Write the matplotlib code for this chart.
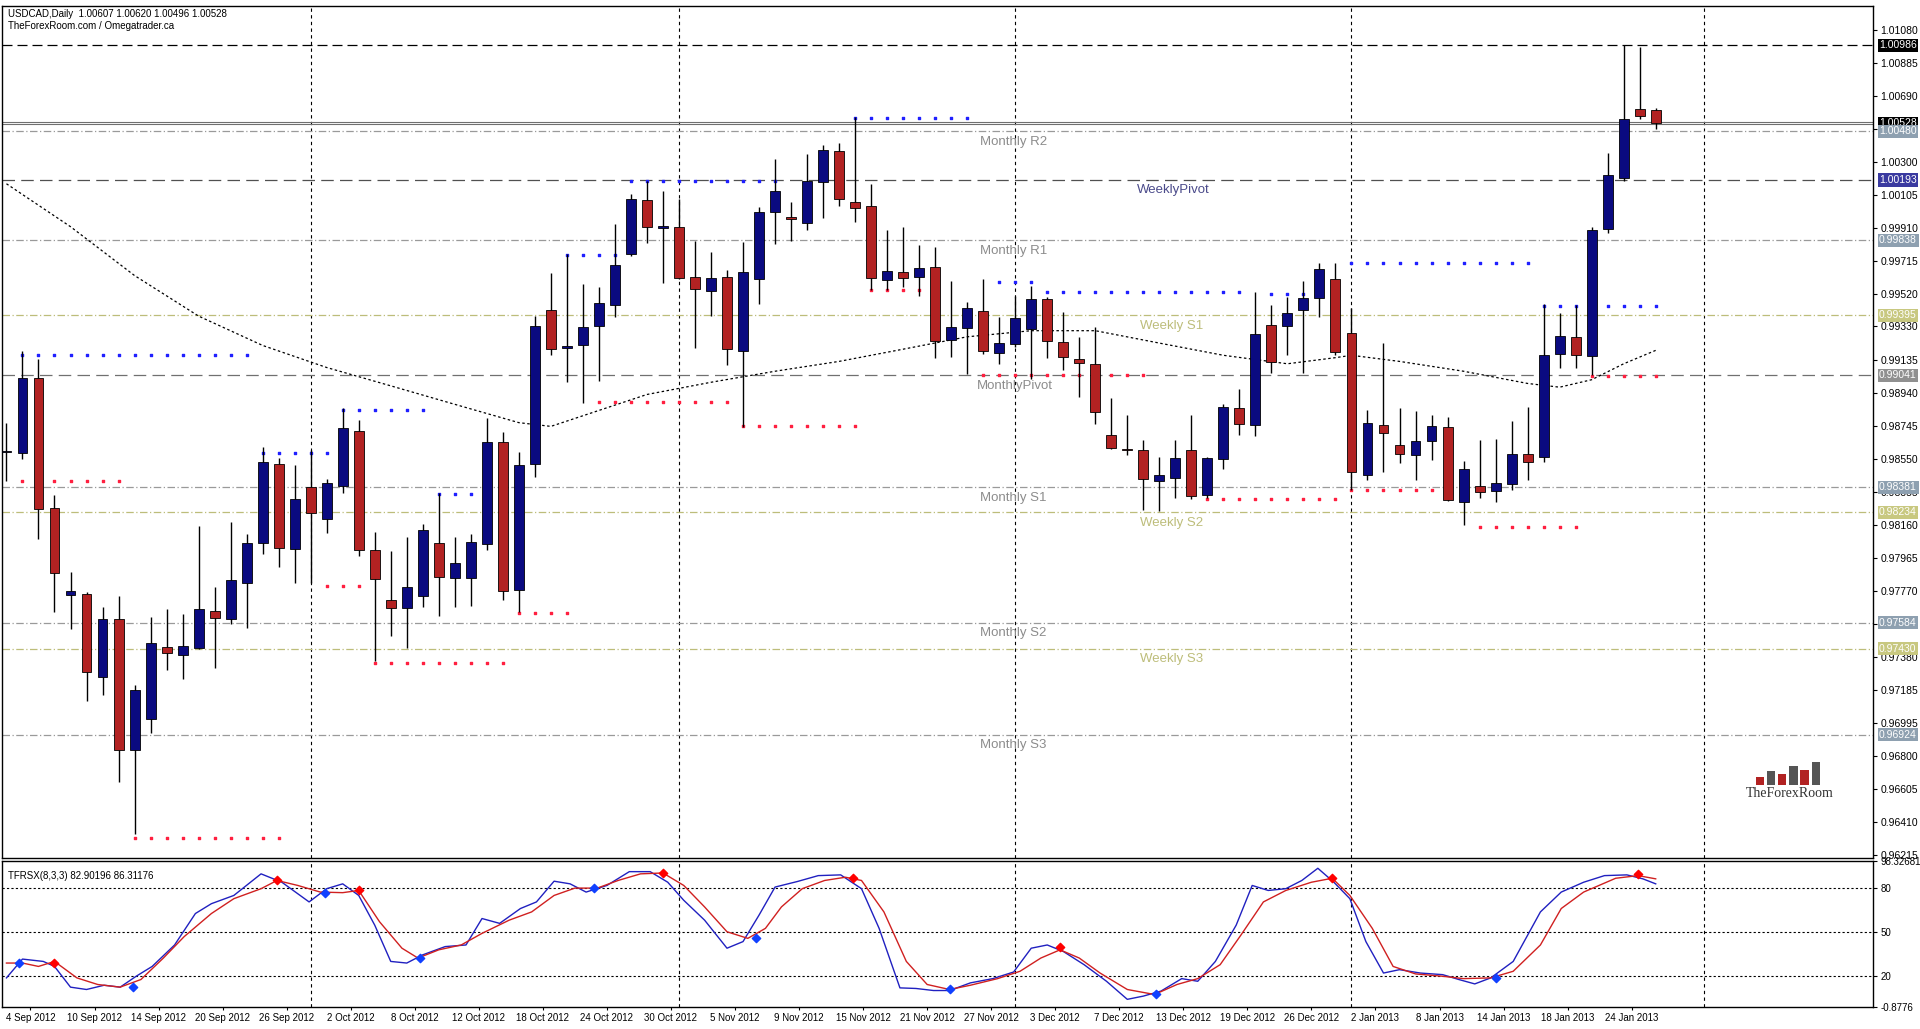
import matplotlib
matplotlib.use("Agg")
import matplotlib.pyplot as plt
from matplotlib.patches import Rectangle

# ---- candle data (bar index 0 = 31 Aug 2012) ----
opens = [0.98590, 0.98582, 0.99027, 0.98262, 0.97746, 0.97755, 0.97261, 0.97603, 0.96836, 0.97016,
         0.97441, 0.97393, 0.97435, 0.97655, 0.97603, 0.97820, 0.98054, 0.98519, 0.98020, 0.98382,
         0.98197, 0.98390, 0.98716, 0.98014, 0.97720, 0.97672, 0.97743, 0.98054, 0.97849, 0.97849,
         0.98048, 0.98647, 0.97777, 0.98519, 0.99429, 0.99203, 0.99218, 0.99330, 0.99459, 0.99758,
         1.00075, 0.99909, 0.99915, 0.99620, 0.99538, 0.99620, 0.99185, 0.99607, 1.00007, 0.99973,
         0.99938, 1.00179, 1.00362, 1.00062, 1.00042, 0.99601, 0.99650, 0.99620, 0.99679, 0.99248,
         0.99320, 0.99424, 0.99173, 0.99224, 0.99316, 0.99489, 0.99238, 0.99136, 0.99110, 0.98688,
         0.98607, 0.98599, 0.98422, 0.98436, 0.98599, 0.98338, 0.98548, 0.98852, 0.98750, 0.99336,
         0.99330, 0.99426, 0.99497, 0.99609, 0.99294, 0.98456, 0.98750, 0.98629, 0.98570, 0.98652,
         0.98740, 0.98298, 0.98391, 0.98358, 0.98401, 0.98580, 0.98558, 0.99169, 0.99267, 0.99157,
         0.99905, 1.00207, 1.00611, 1.00607]
highs = [0.98761, 0.99183, 0.99141, 0.98339, 0.97883, 0.97764, 0.97677, 0.97740, 0.97215, 0.97615,
         0.97663, 0.97635, 0.98154, 0.97797, 0.98177, 0.98105, 0.98619, 0.98553, 0.98513, 0.98599,
         0.98433, 0.98847, 0.98776, 0.98120, 0.98005, 0.98091, 0.98168, 0.98348, 0.98091, 0.98105,
         0.98790, 0.98710, 0.98590, 0.99389, 0.99645, 0.99758, 0.99581, 0.99562, 0.99934, 1.00111,
         1.00189, 1.00126, 1.00081, 0.99836, 0.99767, 0.99660, 0.99826, 1.00032, 1.00317, 1.00062,
         1.00346, 1.00401, 1.00411, 1.00562, 1.00170, 0.99899, 0.99915, 0.99811, 0.99797, 0.99595,
         0.99477, 0.99610, 0.99385, 0.99512, 0.99571, 0.99503, 0.99418, 0.99267, 0.99326, 0.98907,
         0.98809, 0.98662, 0.98558, 0.98662, 0.98809, 0.98558, 0.98872, 0.98962, 0.99536, 0.99457,
         0.99506, 0.99595, 0.99703, 0.99703, 0.99438, 0.98839, 0.99232, 0.98848, 0.98829, 0.98809,
         0.98799, 0.98538, 0.98662, 0.98668, 0.98774, 0.98858, 0.99461, 0.99408, 0.99457, 0.99918,
         1.00352, 1.00986, 1.00980, 1.00620]
lows = [0.98419, 0.98547, 0.98077, 0.97649, 0.97549, 0.97121, 0.97158, 0.96645, 0.96337, 0.96936,
        0.97307, 0.97250, 0.97430, 0.97315, 0.97578, 0.97555, 0.97991, 0.97911, 0.97820, 0.97820,
        0.98111, 0.98348, 0.97977, 0.97358, 0.97506, 0.97435, 0.97677, 0.97626, 0.97677, 0.97683,
        0.98014, 0.97720, 0.97649, 0.98442, 0.99160, 0.99002, 0.98881, 0.99006, 0.99385, 0.99748,
        0.99822, 0.99585, 0.99611, 0.99203, 0.99391, 0.99101, 0.98738, 0.99463, 0.99816, 0.99836,
        0.99901, 0.99969, 1.00038, 0.99944, 0.99542, 0.99542, 0.99562, 0.99512, 0.99144, 0.99150,
        0.99052, 0.99169, 0.99110, 0.99208, 0.99022, 0.99144, 0.99071, 0.98914, 0.98757, 0.98609,
        0.98570, 0.98249, 0.98244, 0.98318, 0.98314, 0.98318, 0.98491, 0.98691, 0.98682, 0.99055,
        0.99163, 0.99055, 0.99383, 0.99163, 0.98367, 0.98426, 0.98475, 0.98525, 0.98426, 0.98544,
        0.98302, 0.98157, 0.98318, 0.98298, 0.98367, 0.98426, 0.98534, 0.99088, 0.99088, 0.99041,
        0.99882, 1.00185, 1.00554, 1.00496]
closes = [0.98592, 0.99027, 0.98254, 0.97877, 0.97769, 0.97293, 0.97603, 0.96836, 0.97187, 0.97464,
          0.97407, 0.97444, 0.97663, 0.97612, 0.97834, 0.98054, 0.98533, 0.98025, 0.98311, 0.98228,
          0.98405, 0.98733, 0.98014, 0.97843, 0.97669, 0.97797, 0.98128, 0.97854, 0.97934, 0.98060,
          0.98647, 0.97769, 0.98513, 0.99332, 0.99200, 0.99214, 0.99326, 0.99469, 0.99693, 1.00081,
          0.99915, 0.99921, 0.99615, 0.99548, 0.99615, 0.99195, 0.99650, 1.00003, 1.00126, 0.99964,
          1.00189, 1.00370, 1.00081, 1.00026, 0.99615, 0.99654, 0.99615, 0.99673, 0.99244, 0.99326,
          0.99438, 0.99185, 0.99232, 0.99379, 0.99489, 0.99244, 0.99150, 0.99116, 0.98826, 0.98613,
          0.98603, 0.98432, 0.98452, 0.98554, 0.98328, 0.98554, 0.98858, 0.98754, 0.99288, 0.99120,
          0.99408, 0.99497, 0.99668, 0.99182, 0.98470, 0.98760, 0.98701, 0.98580, 0.98652, 0.98746,
          0.98308, 0.98489, 0.98354, 0.98407, 0.98578, 0.98534, 0.99159, 0.99271, 0.99163, 0.99897,
          1.00222, 1.00554, 1.00568, 1.00528]

# moving average (dotted), sampled at bar indices
ma_idx = [0, 4, 8, 12, 16, 20, 24, 28, 32, 34, 37, 40, 44, 48, 52, 56, 60, 64, 68, 72, 76, 80, 83, 84,
          87, 91, 95, 97, 99, 101, 103]
ma_val = [1.00171, 0.99918, 0.99630, 0.99391, 0.99218, 0.99088, 0.98980, 0.98871, 0.98763, 0.98741,
          0.98835, 0.98929, 0.99001, 0.99066, 0.99124, 0.99196, 0.99269, 0.99305, 0.99305, 0.99232,
          0.99160, 0.99110, 0.99146, 0.99160, 0.99124, 0.99066, 0.98994, 0.98972, 0.99016, 0.99110,
          0.99189]

# fractal dot levels: (first bar, last bar, price)
blue_dots = [(1, 15, 0.99160), (16, 20, 0.98583), (21, 26, 0.98835), (27, 29, 0.98344),
             (35, 38, 0.99752), (39, 48, 1.00185), (53, 60, 1.00561), (62, 64, 0.99593),
             (65, 77, 0.99536), (79, 81, 0.99521), (84, 95, 0.99702), (96, 98, 0.99449),
             (100, 103, 0.99449)]
red_dots = [(1, 7, 0.98417), (8, 17, 0.96316), (20, 22, 0.97803), (23, 31, 0.97348),
            (32, 35, 0.97644), (37, 45, 0.98886), (46, 53, 0.98741), (54, 57, 0.99543),
            (61, 71, 0.99045), (75, 83, 0.98315), (84, 89, 0.98366), (92, 98, 0.98149),
            (99, 103, 0.99037)]

# pivot levels
level_names = ["Monthly R2", "WeeklyPivot", "Monthly R1", "Weekly S1", "MonthlyPivot",
               "Monthly S1", "Weekly S2", "Monthly S2", "Weekly S3", "Monthly S3"]
level_vals = [1.00480, 1.00193, 0.99838, 0.99395, 0.99041, 0.98381, 0.98234, 0.97584, 0.97430, 0.96924]
high_line = 1.00986
last_price = 1.00528

price_ticks = [1.01080, 1.00885, 1.00690, 1.00495, 1.00300, 1.00105, 0.99910, 0.99715, 0.99520,
               0.99330, 0.99135, 0.98940, 0.98745, 0.98550, 0.98355, 0.98160, 0.97965, 0.97770,
               0.97575, 0.97380, 0.97185, 0.96995, 0.96800, 0.96605, 0.96410, 0.96215]

date_labels = ["4 Sep 2012", "10 Sep 2012", "14 Sep 2012", "20 Sep 2012", "26 Sep 2012", "2 Oct 2012",
               "8 Oct 2012", "12 Oct 2012", "18 Oct 2012", "24 Oct 2012", "30 Oct 2012", "5 Nov 2012",
               "9 Nov 2012", "15 Nov 2012", "21 Nov 2012", "27 Nov 2012", "3 Dec 2012", "7 Dec 2012",
               "13 Dec 2012", "19 Dec 2012", "26 Dec 2012", "2 Jan 2013", "8 Jan 2013", "14 Jan 2013",
               "18 Jan 2013", "24 Jan 2013"]
date_idx = list(range(2, 103, 4))
grid_idx = [19, 42, 63, 84, 106]

# oscillator TFRSX(8,3,3)
fast_idx = [0, 1, 2.3, 3, 4, 5, 6.1, 7.1, 8.1, 9.1, 10.5, 11.8, 12.8, 14.2, 15.9, 17.2, 18.9, 20, 21, 22,
            23, 24, 25, 26, 27.4, 28.7, 29.7, 30.8, 32.1, 33.1, 34.2, 35.2, 36.2, 37.5, 38.9, 40.2, 41.3,
            42.3, 43.6, 45, 46, 47, 48, 49.4, 50.7, 52.1, 53.4, 54.5, 55.8, 56.8, 57.9, 58.9, 60.2, 61.6,
            62.9, 64, 65, 66, 67.3, 68.7, 70, 71, 72.1, 73.4, 74.4, 75.5, 76.8, 77.8, 78.8, 79.9, 80.9,
            81.9, 82.9, 83.9, 84.9, 86, 87, 88.3, 89.7, 90.7, 91.7, 92.7, 94.1, 95.8, 97.1, 98.5, 99.8,
            101.2, 102.2, 103]
fast_val = [18.9, 31.7, 30.1, 26.7, 12.6, 11.0, 13.9, 12.6, 20.0, 26.7, 41.3, 62.7, 69.4, 75.0, 89.7,
            84.0, 70.6, 79.6, 82.9, 75.0, 54.8, 30.1, 29.0, 34.6, 40.2, 41.3, 59.3, 56.0, 66.1, 70.6,
            84.7, 82.9, 77.3, 81.8, 91.2, 91.2, 84.0, 71.7, 58.2, 39.1, 43.6, 61.6, 80.7, 84.5, 88.5,
            89.0, 79.6, 52.6, 12.1, 11.7, 10.3, 10.3, 15.5, 18.4, 22.9, 39.1, 41.3, 36.9, 27.9, 16.6,
            4.3, 6.5, 9.9, 18.4, 16.6, 30.1, 54.8, 81.8, 78.4, 79.6, 85.2, 93.5, 84.0, 72.8, 43.6, 22.2,
            24.5, 22.2, 21.1, 17.8, 14.8, 18.9, 30.1, 63.8, 77.3, 84.0, 88.5, 89.0, 86.3, 82.90]
slow_idx = [0, 1, 2, 3, 4.4, 5.7, 7.1, 8.4, 9.8, 11.1, 12.8, 14.2, 15.9, 16.9, 18.2, 19.6, 21, 22, 23.3,
            24.7, 25.7, 27, 28.4, 29.7, 31.4, 32.8, 34.2, 35.5, 36.9, 38.2, 39.6, 41, 42.3, 43.6, 45,
            46.3, 47.4, 48.4, 49.7, 51.1, 52.4, 53.4, 54.8, 56.2, 57.5, 58.9, 60.2, 61.9, 63.3, 64.6,
            65.8, 67, 68.3, 70, 71.7, 73.1, 74.4, 75.8, 77.1, 78.5, 79.9, 81.5, 82.8, 83.9, 85.3, 86.6,
            88, 89.7, 91, 92.7, 94.1, 95.8, 97.1, 98.5, 100.5, 101.9, 103]
slow_val = [29.0, 29.0, 26.7, 30.1, 18.9, 14.4, 12.6, 17.8, 32.4, 47.0, 62.7, 72.8, 79.6, 85.2, 81.8,
            77.3, 76.9, 78.4, 57.1, 39.1, 32.4, 38.0, 41.3, 49.2, 58.2, 63.8, 75.0, 80.0, 80.0, 85.2,
            89.7, 90.3, 81.8, 67.2, 50.3, 45.8, 52.6, 67.2, 79.6, 85.2, 87.4, 85.2, 63.8, 30.1, 14.4,
            11.0, 13.9, 18.4, 23.4, 32.4, 38.0, 32.4, 22.2, 11.0, 7.6, 14.4, 18.4, 27.9, 48.1, 70.6,
            78.4, 84.0, 86.7, 75.0, 52.6, 26.7, 21.6, 20.0, 18.4, 18.9, 23.4, 41.3, 66.1, 77.3, 86.7,
            88.5, 86.31]
sell_marks = [(3.0, 29.0), (16.9, 85.2), (22.0, 78.4), (41.0, 90.3), (52.9, 86.7), (65.8, 39.6),
              (82.8, 86.7), (101.9, 89.5)]
buy_marks = [(0.8, 29.0), (7.9, 12.7), (19.9, 76.9), (25.8, 32.4), (36.7, 80.0), (46.8, 46.3),
             (58.9, 11.0), (71.8, 7.6), (93.0, 18.9)]

# ---- figure ----
W, H = 1920, 1029
fig = plt.figure(figsize=(W / 100, H / 100), dpi=100)
plt.rcParams['font.family'] = ['Liberation Sans', 'DejaVu Sans']
X0, X1 = 2 / 1568, 1530 / 1568
ax = fig.add_axes([X0, 1 - 700 / 840, X1 - X0, 695 / 840])
axo = fig.add_axes([X0, 1 - 822 / 840, X1 - X0, 119 / 840], sharex=ax)
fig.patch.set_facecolor("white")

xmin, xmax = -0.25, 116.6
ymin, ymax = 0.96200, 1.01218
ax.set_xlim(xmin, xmax)
ax.set_ylim(ymin, ymax)

for g in grid_idx:
    ax.axvline(g, color="black", ls=(0, (3, 3)), lw=0.8, zorder=1)
    axo.axvline(g, color="black", ls=(0, (3, 3)), lw=0.8, zorder=1)

# pivot lines and labels
monthly_c, weekly_c = "#8c8c8c", "#bdbd7a"
for name, v in zip(level_names, level_vals):
    if name == "WeeklyPivot":
        c, ls, tc, lx = "#505050", (0, (10, 5)), "#4a4a8a", 70.6
    elif name == "MonthlyPivot":
        c, ls, tc, lx = "#707070", (0, (10, 5)), monthly_c, 60.6
    elif name.startswith("Weekly"):
        c, ls, tc, lx = weekly_c, (0, (6, 2, 1, 2)), weekly_c, 70.8
    else:
        c, ls, tc, lx = "#9a9a9a", (0, (6, 2, 1, 2)), monthly_c, 60.8
    ax.axhline(v, color=c, ls=ls, lw=0.9, zorder=2)
    ax.text(lx, v - 0.00025, name, color=tc, fontsize=9.5, va="top", ha="left", zorder=3)

ax.axhline(high_line, color="black", ls=(0, (8, 4)), lw=0.9, zorder=2)
ax.axhline(last_price + 0.00006, color="#707070", lw=0.8, zorder=2)
ax.axhline(last_price - 0.00006, color="#707070", lw=0.8, zorder=2)

# moving average
ax.plot(ma_idx, ma_val, color="black", ls=(0, (2, 2)), lw=0.9, zorder=3)

# fractal dots
for a, b, v in blue_dots:
    ax.scatter(range(a, b + 1), [v] * (b - a + 1), s=3, color="#2020ff", marker="s", zorder=3)
for a, b, v in red_dots:
    ax.scatter(range(a, b + 1), [v] * (b - a + 1), s=3, color="#ff2040", marker="s", zorder=3)

# candles
bw = 0.62
for i, (o, h, l, c) in enumerate(zip(opens, highs, lows, closes)):
    ax.vlines(i, l, h, color="black", lw=1.0, zorder=4)
    col = "#0a0a80" if c >= o else "#b22222"
    bot, top = min(o, c), max(o, c)
    ax.add_patch(Rectangle((i - bw / 2, bot), bw, max(top - bot, 0.00004),
                           facecolor=col, edgecolor="black", lw=0.6, zorder=5))

# right axis ticks
ax.yaxis.tick_right()
ax.set_yticks(price_ticks)
ax.set_yticklabels([f"{t:.5f}" for t in price_ticks], fontsize=7.5)
ax.tick_params(axis="y", length=3, pad=2)
ax.tick_params(axis="x", bottom=False, labelbottom=False)

# price tags
tags = [(high_line, "black"), (last_price, "black"), (level_vals[1], "#3a3aa0"),
        (level_vals[0], "#8ea0b0"), (level_vals[2], "#8ea0b0"), (level_vals[3], "#c8c880"),
        (level_vals[4], "#909090"), (level_vals[5], "#8ea0b0"), (level_vals[6], "#c8c880"),
        (level_vals[7], "#8ea0b0"), (level_vals[8], "#c8c880"), (level_vals[9], "#8ea0b0")]
for v, bg in tags:
    ax.text(1.003, v, f"{v:.5f}", transform=ax.get_yaxis_transform(), fontsize=7.5, color="white",
            va="center", ha="left", zorder=6,
            bbox=dict(boxstyle="square,pad=0.15", facecolor=bg, edgecolor="none"))

# header
ax.text(0.003, 0.997, "USDCAD,Daily  1.00607 1.00620 1.00496 1.00528", transform=ax.transAxes,
        fontsize=7, va="top", ha="left")
ax.text(0.003, 0.983, "TheForexRoom.com / Omegatrader.ca", transform=ax.transAxes,
        fontsize=7, va="top", ha="left")

# logo
logo_bars = [0.30, 0.55, 0.45, 0.75, 0.60, 0.90]
for k, hgt in enumerate(logo_bars):
    ax.add_patch(Rectangle((0.937 + k * 0.006, 0.085), 0.0045, 0.03 * hgt, transform=ax.transAxes,
                           facecolor="#555555" if k % 2 else "#b22222", edgecolor="none", zorder=6))
ax.text(0.955, 0.075, "TheForexRoom", transform=ax.transAxes, fontsize=10,
        family=["Liberation Serif", "DejaVu Serif"], color="#333333", ha="center", va="center")

# oscillator panel
axo.set_ylim(-0.8776, 98.32681)
for lv in (80, 50, 20):
    axo.axhline(lv, color="black", ls=(0, (2, 2)), lw=0.8, zorder=1)
axo.plot(fast_idx, fast_val, color="#2020c0", lw=1.0, zorder=3)
axo.plot(slow_idx, slow_val, color="#d02020", lw=1.0, zorder=3)
axo.scatter([p[0] for p in sell_marks], [p[1] for p in sell_marks], marker="D", s=18, color="red", zorder=4)
axo.scatter([p[0] for p in buy_marks], [p[1] for p in buy_marks], marker="D", s=18, color="#1040ff", zorder=4)
axo.text(0.003, 0.93, "TFRSX(8,3,3) 82.90196 86.31176", transform=axo.transAxes, fontsize=7, va="top")
axo.yaxis.tick_right()
axo.set_yticks([98.32681, 80, 50, 20, -0.8776])
axo.set_yticklabels(["98.32681", "80", "50", "20", "-0.8776"], fontsize=7)
axo.tick_params(axis="y", length=3, pad=2)
axo.set_xticks([d - 0.5 for d in date_idx])
axo.set_xticklabels(date_labels, fontsize=7)
axo.tick_params(axis="x", length=2, pad=2)

for a in (ax, axo):
    for s in a.spines.values():
        s.set_linewidth(1.0)

fig.savefig("out.png", dpi=100)
